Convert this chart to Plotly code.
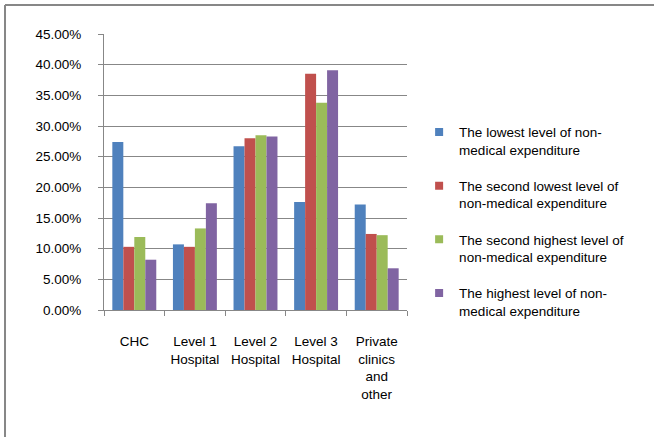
import plotly.graph_objects as go

# Share of patients by provider type, per non-medical expenditure quartile
categories = ["CHC", "Level 1<br>Hospital", "Level 2<br>Hospital",
              "Level 3<br>Hospital", "Private<br>clinics<br>and<br>other"]

series_names = [
    "The lowest level of non-<br>medical expenditure",
    "The second lowest level of<br>non-medical expenditure",
    "The second highest level of<br>non-medical expenditure",
    "The highest level of non-<br>medical expenditure",
]

lowest = [0.274, 0.107, 0.267, 0.176, 0.172]
second_lowest = [0.103, 0.103, 0.280, 0.385, 0.124]
second_highest = [0.119, 0.133, 0.285, 0.338, 0.122]
highest = [0.082, 0.174, 0.283, 0.391, 0.068]

y_ticks = [0, 0.05, 0.10, 0.15, 0.20, 0.25, 0.30, 0.35, 0.40, 0.45]

series_values = [lowest, second_lowest, second_highest, highest]
colors = ["#4F81BD", "#C0504D", "#9BBB59", "#8064A2"]

FONT = "Liberation Sans"
GREY = "#878787"

fig = go.Figure()

for i, (name, vals, col) in enumerate(zip(series_names, series_values, colors)):
    fig.add_trace(go.Bar(
        x=categories, y=vals, name=name, marker_color=col,
        marker_line_width=0, showlegend=False,
    ))

# Legend entries with small square swatches
for i, (name, col) in enumerate(zip(series_names, colors)):
    fig.add_trace(go.Scatter(
        x=[None], y=[None], mode="markers", name=name,
        marker=dict(symbol="square", size=8, color=col),
        legendgroup=f"g{i}", showlegend=True,
    ))

fig.update_layout(
    width=654, height=437,
    margin=dict(l=104, r=247, t=34, b=127),
    paper_bgcolor="white", plot_bgcolor="white",
    font=dict(family=FONT, size=13.5, color="#000000"),
    barmode="group", bargap=0.275, bargroupgap=0,
    legend=dict(
        x=1.04, y=0.70, xanchor="left", yanchor="top",
        tracegroupgap=15.5, valign="top", itemwidth=30,
        font=dict(family=FONT, size=13.5, color="#000000"),
    ),
    xaxis=dict(
        type="category", showline=True, linecolor=GREY, linewidth=1,
        ticks="outside", tickson="boundaries", ticklen=5, tickcolor=GREY,
        showgrid=False, ticklabelstandoff=19,
    ),
    yaxis=dict(
        range=[0, 0.45], tickvals=y_ticks, tickformat=".2%",
        showgrid=True, gridcolor=GREY, gridwidth=1,
        showline=True, linecolor=GREY, linewidth=1,
        ticks="outside", ticklen=5, tickcolor=GREY,
        zeroline=False, ticklabelstandoff=14,
    ),
    shapes=[
        dict(type="line", xref="paper", yref="paper",
             x0=-0.3267, x1=1.82, y0=1.1051, y1=1.1051,
             line=dict(color=GREY, width=2)),
        dict(type="line", xref="paper", yref="paper",
             x0=-0.3267, x1=-0.3267, y0=1.1051, y1=-0.47,
             line=dict(color=GREY, width=2)),
    ],
)

fig.write_html("out.html")
